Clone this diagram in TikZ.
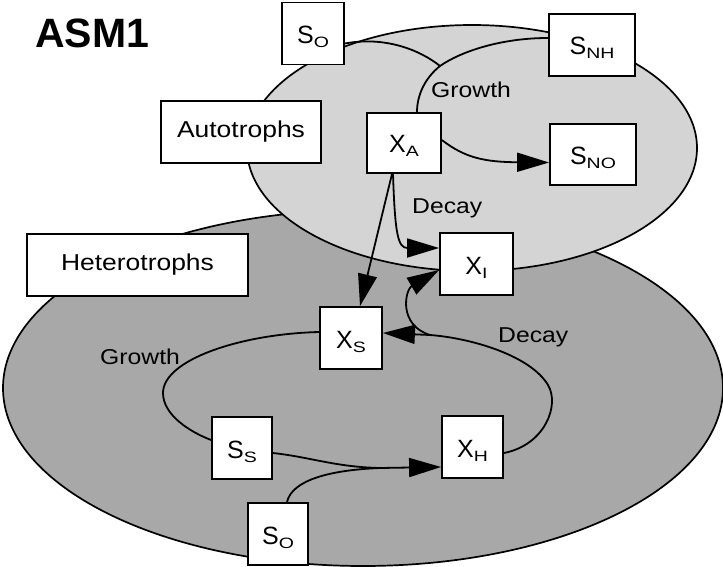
\documentclass[tikz,border=0pt]{standalone}
\usepackage{fontspec}
\setmainfont{Liberation Sans}
\newfontfamily\widesans[FakeStretch=1.15]{Liberation Sans}
\newfontfamily\indexsans[FakeStretch=1.3]{Liberation Sans}
\usetikzlibrary{arrows.meta,calc}
\definecolor{autofill}{gray}{0.83}
\definecolor{heterofill}{gray}{0.66}
% symbol with a lowered small index, e.g. S_O
\newcommand{\chem}[2]{#1\raisebox{-4pt}{\indexsans\fontsize{15}{15}\selectfont #2}}
\begin{document}
\begin{tikzpicture}[x=1pt,y=-1pt,
  box/.style={draw=black,line width=1.8pt,fill=white,inner sep=0pt},
  symbox/.style={box,minimum height=62pt,text height=20pt,text depth=0pt,
    font=\fontsize{25}{25}\selectfont},
  namebox/.style={box,minimum height=62pt,font=\widesans\fontsize{23}{23}\selectfont},
  lbl/.style={anchor=base west,inner sep=0pt,font=\widesans\fontsize{21.5}{21.5}\selectfont},
  conn/.style={line width=1.8pt},
  arr/.style={conn,-{Triangle[length=32pt,width=19pt]}},
  region/.style={draw=black,line width=1.7pt}
]
\useasboundingbox (0,0) rectangle (723,567);
\fill[white] (0,0) rectangle (723,567);

% the two biomass regions
\draw[region,fill=heterofill] (363,388) ellipse [x radius=360pt, y radius=178pt];
\draw[region,fill=autofill] (472,148) ellipse [x radius=225pt, y radius=123pt];

% title
\node[anchor=base west,inner sep=0pt,font=\bfseries\fontsize{41}{41}\selectfont] (title) at (35,48) {ASM1};

% boxes
\node[symbox,minimum width=62pt] (SOa) at (313,33.5) {\chem{S}{O}};
\node[symbox,minimum width=86pt] (SNH) at (592,45) {\chem{S}{NH}};
\node[namebox,minimum width=160pt] (auto) at (241,132) {Autotrophs};
\node[symbox,minimum width=74pt,minimum height=60pt] (XA) at (404,143) {\chem{X}{A}};
\node[symbox,minimum width=86pt,minimum height=61pt] (SNO) at (593,154.5) {\chem{S}{NO}};
\node[namebox,minimum width=221pt] (hetero) at (137.5,265) {Heterotrophs\hspace{18pt}};
\node[symbox,minimum width=73pt] (XI) at (476.5,264) {\chem{X}{I}};
\node[symbox,minimum width=62pt] (XS) at (351,338) {\chem{X}{S}};
\node[symbox,minimum width=60pt] (SS) at (242,448) {\chem{S}{S}};
\node[symbox,minimum width=61pt] (XH) at (472.5,447) {\chem{X}{H}};
\node[symbox,minimum width=60pt] (SOb) at (278,534) {\chem{S}{O}};

% process labels
\node[lbl] (gA) at (431,98) {Growth};
\node[lbl] (dA) at (412,213) {Decay};
\node[lbl] (gH) at (100,364) {Growth};
\node[lbl] (dH) at (498,342) {Decay};

% junction points
\coordinate (mg) at (440,66);
\coordinate (mh) at (380,468);
\coordinate (md) at (430,335);

% autotrophic growth
\draw[conn] ($(SOa.east)+(0,10)$) .. controls (385,36) and (420,50) .. (mg);
\draw[conn] ($(SNH.west)+(0,-7)$) .. controls (500,38) and (460,52) .. (mg)
  .. controls (425,78) and (417,95) .. ($(XA.north)+(13,0)$);
\draw[arr] ($(XA.east)+(0,-3)$) .. controls (465,158) and (485,162) .. ($(SNO.west)+(0,8)$);

% autotrophic decay
\draw[arr] ($(XA.south)+(-12,0)$) -- ($(XS.north)+(9,0)$);
\draw[arr] ($(XA.south)+(-11,0)$) .. controls (395,235) and (398,248) .. ($(XI.west)+(0,-16)$);

% heterotrophic growth
\draw[conn] ($(XS.west)+(0,-6)$) .. controls (240,334) and (163,360) .. (163,393)
  .. controls (163,415) and (190,432) .. ($(SS.west)+(0,-8)$);
\draw[arr] ($(SS.east)+(0,5)$) .. controls (310,457) and (335,467) .. (mh) -- ($(XH.west)+(0,20)$);
\draw[conn] ($(SOb.north)+(9,0)$) .. controls (292,480) and (330,470) .. (mh);

% heterotrophic decay
\draw[arr] ($(XH.east)+(0,6)$) .. controls (545,445) and (560,405) .. (548,385)
  .. controls (530,355) and (470,338) .. (md) -- ($(XS.east)+(0,-5)$);
\draw[arr] (md) .. controls (398,325) and (405,290) .. ($(XI.west)+(0,6)$);
\end{tikzpicture}
\end{document}
